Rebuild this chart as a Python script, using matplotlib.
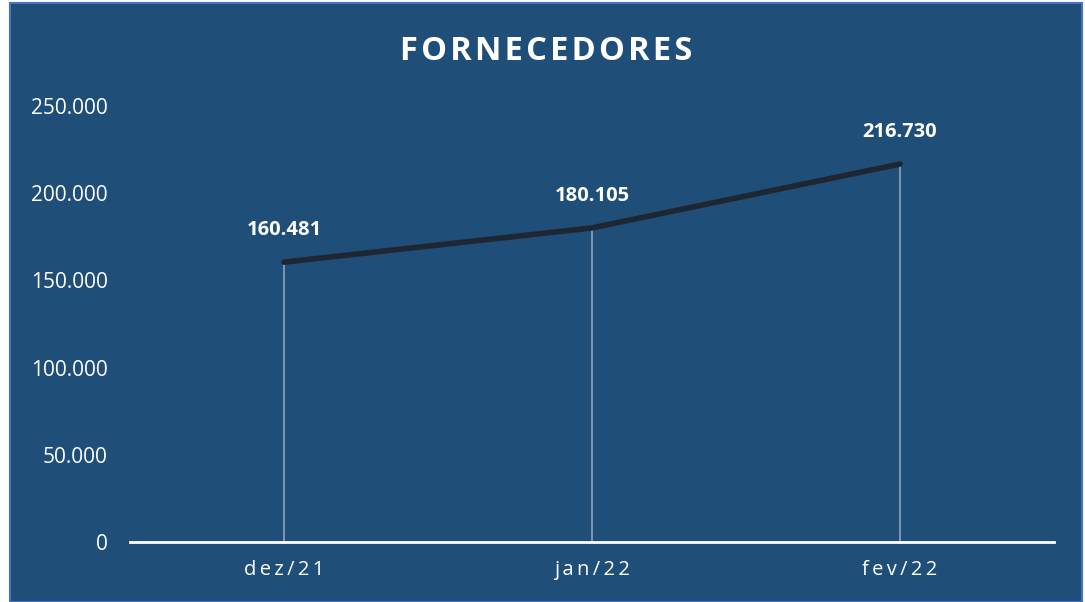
import matplotlib
matplotlib.use("Agg")
import matplotlib.pyplot as plt
from matplotlib.patches import Rectangle
from matplotlib.ticker import FuncFormatter

categories = ["dez/21", "jan/22", "fev/22"]
values = [160481, 180105, 216730]
labels = ["160.481", "180.105", "216.730"]
yticks = [0, 50000, 100000, 150000, 200000, 250000]

BG = "#1F4E79"
W, H = 1085, 602
fig = plt.figure(figsize=(W / 100, H / 100), dpi=100, facecolor="white")
fig.patches.append(Rectangle((10 / W, 0), 1072 / W, 599 / H, transform=fig.transFigure,
                             facecolor=BG, edgecolor="#4472C4", linewidth=1.5, zorder=-10))

ax = fig.add_axes([130 / W, (H - 542) / H, 924 / W, (542 - 106) / H])
ax.set_zorder(5)
ax.set_facecolor("none")
x = list(range(len(categories)))
ax.set_xlim(-0.5, len(categories) - 0.5)
ax.set_ylim(0, 250000)

for xi, v in zip(x, values):
    ax.plot([xi, xi], [0, v], color="#8EA3BC", linewidth=1.2, zorder=2, clip_on=False)
ax.plot(x, values, color="#1E2632", linewidth=4, solid_capstyle="round", zorder=3, clip_on=False)

for xi, v, lab in zip(x, values, labels):
    ax.annotate(lab, (xi, v), xytext=(0, 16), textcoords="offset points", ha="center",
                va="bottom", color="white", fontsize=14.5, fontweight="bold", family="Open Sans")

for s in ["top", "right", "left"]:
    ax.spines[s].set_visible(False)
ax.spines["bottom"].set_color("white")
ax.spines["bottom"].set_linewidth(2)
ax.set_yticks(yticks)
ax.yaxis.set_major_formatter(FuncFormatter(lambda v, p: f"{int(v):,}".replace(",", ".")))
ax.set_xticks(x)
ax.set_xticklabels(["\u2009".join(c) for c in categories])
ax.tick_params(axis="y", length=0, colors="white", labelsize=15, pad=16)
ax.tick_params(axis="x", length=0, colors="white", labelsize=14.5, pad=13)
for t in ax.get_xticklabels() + ax.get_yticklabels():
    t.set_family("Open Sans")

fig.text(546 / W, 1 - 51 / H, "\u200a".join("FORNECEDORES"), ha="center", va="center", color="white",
         fontsize=23.5, fontweight="bold", family="Open Sans")

fig.savefig("out.png", dpi=100, facecolor="white")
